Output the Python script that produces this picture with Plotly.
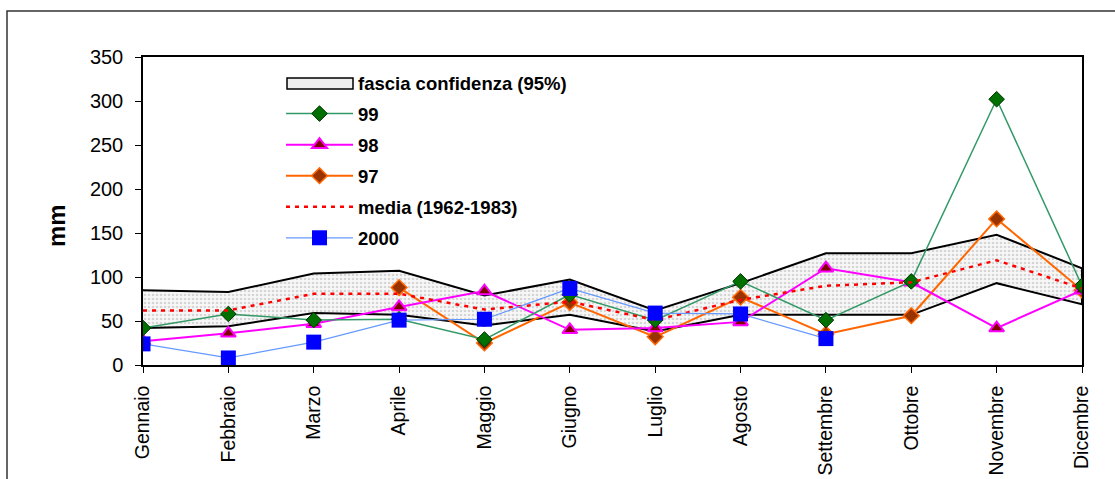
import plotly.graph_objects as go

months = ["Gennaio", "Febbraio", "Marzo", "Aprile", "Maggio", "Giugno",
          "Luglio", "Agosto", "Settembre", "Ottobre", "Novembre", "Dicembre"]

band_upper = [85, 83, 104, 107, 79, 97, 62, 93, 127, 127, 148, 110]
band_lower = [42, 44, 59, 57, 45, 57, 38, 57, 57, 57, 93, 69]
media = [62, 62, 81, 81, 63, 72, 51, 74, 90, 94, 119, 87]
s99 = [42, 58, 51, 52, 29, 80, 51, 95, 51, 95, 302, 90]
s98 = [27, 36, 47, 66, 84, 40, 42, 49, 110, 94, 42, 85]
s97 = [None, None, None, 88, 25, 71, 32, 77, 35, 56, 166, 85]
s2000 = [24, 8, 26, 51, 52, 87, 59, 58, 30, None, None, None]

FONT = "Liberation Sans, Arial, sans-serif"

fig = go.Figure()

# confidence band as a closed polygon (upper forward, lower backward)
band_x = months + months[::-1]
band_y = band_upper + band_lower[::-1]
fig.add_trace(go.Scatter(x=band_x, y=band_y, mode="lines", fill="toself",
                         showlegend=False, hoverinfo="skip",
                         line=dict(color="black", width=2),
                         fillcolor="rgba(255,255,255,0)",
                         fillpattern=dict(shape=".", fgcolor="#b4b4b4",
                                          bgcolor="#f7f7f7", size=4, solidity=0.35)))
# legend entry for the band (symbol drawn as a framed box below)
fig.add_trace(go.Scatter(x=[None], y=[None], mode="lines",
                         name="fascia confidenza (95%)", legendrank=1,
                         legendgroup="g1",
                         line=dict(color="rgba(0,0,0,0)", width=1)))

fig.add_trace(go.Scatter(x=months, y=s97, mode="lines+markers", name="97",
                         legendrank=4, legendgroup="g4",
                         line=dict(color="#FF6600", width=2),
                         marker=dict(symbol="diamond", size=12, color="#993300",
                                     line=dict(color="#FF6600", width=1.5))))
fig.add_trace(go.Scatter(x=months, y=s98, mode="lines+markers", name="98",
                         legendrank=3, legendgroup="g3",
                         line=dict(color="#FF00FF", width=2),
                         marker=dict(symbol="triangle-up", size=13, color="#800000",
                                     line=dict(color="#FF00FF", width=2))))
fig.add_trace(go.Scatter(x=months, y=s99, mode="lines+markers", name="99",
                         legendrank=2, legendgroup="g2",
                         line=dict(color="#339966", width=1.5),
                         marker=dict(symbol="diamond", size=12, color="#007000",
                                     line=dict(color="#003300", width=1))))
fig.add_trace(go.Scatter(x=months, y=media, mode="lines", name="media (1962-1983)",
                         legendrank=5, legendgroup="g5",
                         line=dict(color="#FF0000", width=2.5, dash="4px,5px")))
fig.add_trace(go.Scatter(x=months, y=s2000, mode="lines+markers", name="2000",
                         legendrank=6, legendgroup="g6",
                         line=dict(color="#6699FF", width=1.2),
                         marker=dict(symbol="square", size=15, color="#0000FF",
                                     line=dict(color="#0000FF", width=0))))

W, H = 1115, 479
L, R, T, B = 143, 33, 57, 114
pw, ph = W - L - R, H - T - B


def px(xp):
    return (xp - L) / pw


def py(yp):
    return (H - B - yp) / ph


# outer chart frame
fig.add_shape(type="rect", xref="paper", yref="paper",
              x0=px(7), x1=px(1125), y0=py(495), y1=py(11),
              line=dict(color="#333333", width=1.5), layer="below")
# legend box symbol for the confidence band
fig.add_shape(type="rect", xref="paper", yref="paper",
              x0=px(287), x1=px(353), y0=py(89), y1=py(78),
              line=dict(color="black", width=1.5), fillcolor="#efefef", layer="above")

# y-axis title
fig.add_annotation(text="<b>mm</b>", xref="paper", yref="paper",
                   x=px(56), y=py(226), xanchor="center", yanchor="middle",
                   textangle=-90, showarrow=False, font=dict(size=24, family=FONT))

fig.update_layout(
    width=W, height=H,
    margin=dict(l=L, r=R, t=T, b=B, autoexpand=False),
    paper_bgcolor="white", plot_bgcolor="white",
    font=dict(family=FONT, color="black", size=20),
    showlegend=True,
    legend=dict(x=px(281), y=py(64), xanchor="left", yanchor="top",
                bgcolor="rgba(0,0,0,0)", font=dict(size=18.5, family=FONT, weight="bold"),
                itemwidth=67, tracegroupgap=4, traceorder="grouped"),
    xaxis=dict(type="category", range=[0, 11], showline=True, linecolor="black",
               linewidth=1.5, mirror=True, ticks="outside", ticklen=6,
               tickcolor="black", tickangle=-90, showgrid=False, zeroline=False,
               automargin=False, ticklabelstandoff=5, tickfont=dict(size=19.5)),
    yaxis=dict(range=[0, 350], dtick=50, showline=True, linecolor="black",
               linewidth=1.5, mirror=True, ticks="outside", ticklen=6,
               tickcolor="black", showgrid=False, zeroline=False, automargin=False,
               ticklabelstandoff=8, tickfont=dict(size=20)),
)

fig.write_html("out.html", config={"displayModeBar": False},
               post_script="document.body.style.margin='0';document.body.style.overflow='hidden';")
